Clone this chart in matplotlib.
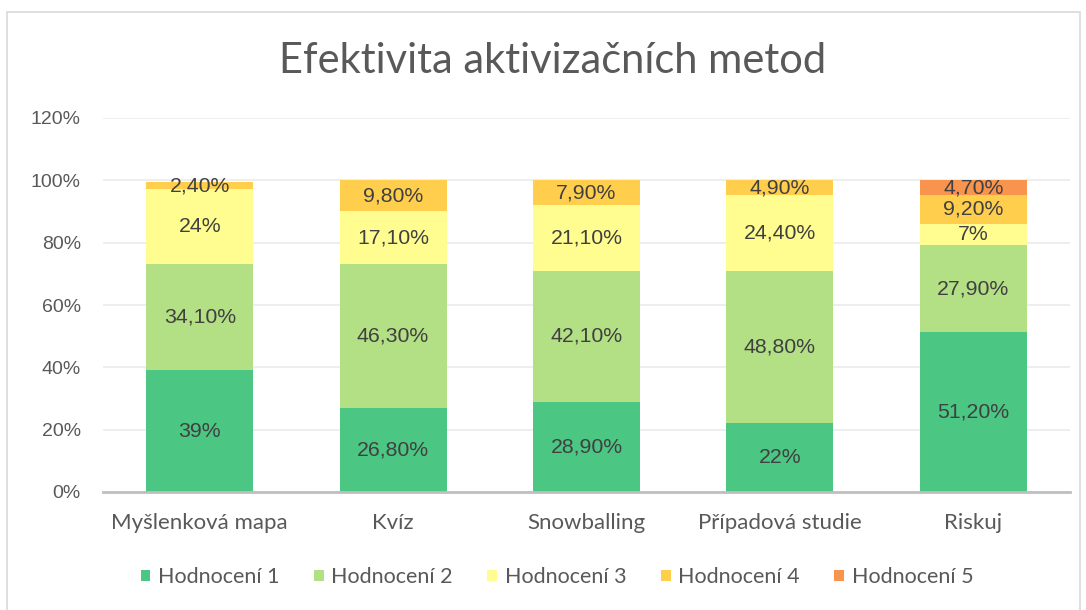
import numpy as np
import matplotlib.pyplot as plt
from matplotlib.patches import Rectangle

# values in percent
methods = ["Myšlenková mapa", "Kvíz", "Snowballing", "Případová studie", "Riskuj"]
series_names = ["Hodnocení 1", "Hodnocení 2", "Hodnocení 3", "Hodnocení 4", "Hodnocení 5"]
h1 = [39, 26.8, 28.9, 22, 51.2]
h2 = [34.1, 46.3, 42.1, 48.8, 27.9]
h3 = [24, 17.1, 21.1, 24.4, 7]
h4 = [2.4, 9.8, 7.9, 4.9, 9.2]
h5 = [0, 0, 0, 0, 4.7]
colors = ["#4BC683", "#B3DF85", "#FFFD8F", "#FFCE4C", "#F9944F"]

TEXT = "#404040"
AXIS_TEXT = "#595959"


def fmt(v):
    if float(v).is_integer():
        return f"{int(v)}%"
    return f"{v:.2f}%".replace(".", ",")


def main():
    fig = plt.figure(figsize=(10.86, 6.10), dpi=100)
    ax = fig.add_axes([103 / 1086, 1 - 492 / 610, (1070 - 103) / 1086, (492 - 118) / 610])

    # chart frame
    fig.patches.append(Rectangle((7 / 1086, -0.05), (1080 - 7) / 1086, 1.05 - 12 / 610,
                                 transform=fig.transFigure, fill=False,
                                 edgecolor="#D9D9D9", linewidth=1.2))

    x = np.arange(len(methods))
    bottom = np.zeros(len(methods))
    for name, vals, col in zip(series_names, [h1, h2, h3, h4, h5], colors):
        vals = np.array(vals, dtype=float)
        ax.bar(x, vals, width=0.553, bottom=bottom, color=col, label=name, zorder=2)
        for xi, b, v in zip(x, bottom, vals):
            if v > 0:
                ax.text(xi, b + v / 2, fmt(v), ha="center", va="center",
                        fontsize=15.3, color=TEXT, family="Liberation Sans", zorder=3)
        bottom += vals

    ax.set_xlim(-0.5, 4.5)
    ax.set_ylim(0, 120)
    ax.set_yticks(np.arange(0, 121, 20))
    ax.set_yticklabels([f"{t}%" for t in range(0, 121, 20)])
    ax.set_xticks(x)
    ax.set_xticklabels(methods)
    ax.grid(axis="y", color="#EBEBEB", linewidth=1.2, zorder=0)
    ax.set_axisbelow(True)
    for s in ["top", "right", "left"]:
        ax.spines[s].set_visible(False)
    ax.spines["bottom"].set_color("#BFBFBF")
    ax.spines["bottom"].set_linewidth(2)
    ax.tick_params(axis="y", length=0, pad=16, labelsize=14, labelcolor=AXIS_TEXT)
    for lbl in ax.get_yticklabels():
        lbl.set_family("Liberation Sans")
    ax.tick_params(axis="x", length=0, pad=15, labelsize=16, labelcolor=AXIS_TEXT)
    for lbl in ax.get_xticklabels():
        lbl.set_family("Lato")

    fig.text(553 / 1086, 1 - 61 / 610, "Efektivita aktivizačních metod", ha="center", va="center",
             fontsize=30, color="#595959", family="Lato", fontweight="normal")

    leg = fig.legend(loc="center", bbox_to_anchor=(557 / 1086, 1 - 577 / 610), ncol=5,
                     frameon=False, handlelength=0.45, handleheight=0.45, handletextpad=0.36,
                     columnspacing=1.6, prop={"family": "Lato", "size": 15.5})
    for t in leg.get_texts():
        t.set_color(AXIS_TEXT)

    fig.savefig("out.png", dpi=100)


if __name__ == "__main__":
    main()
